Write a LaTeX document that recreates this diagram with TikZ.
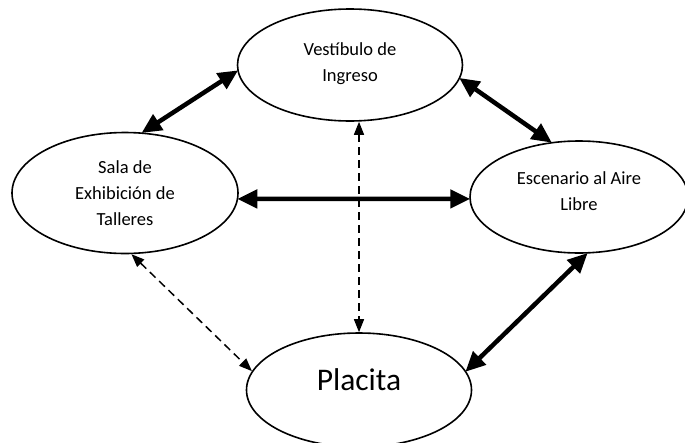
\documentclass[tikz,border=0pt]{standalone}
\usepackage{fontspec}
\setmainfont{Carlito}
\usetikzlibrary{shapes.geometric,arrows.meta}

\tikzset{
  zona/.style={draw, ellipse, line width=1.6pt, align=center,
    font=\fontsize{18.5}{26}\selectfont, inner sep=0pt},
  flecha/.style={line width=4.5pt, {Triangle[length=20pt,width=18pt]}-{Triangle[length=20pt,width=18pt]}, shorten <=-1pt, shorten >=-1pt},
  enlace/.style={line width=1.5pt, dash pattern=on 8pt off 5pt, {Triangle[length=13pt,width=10pt]}-{Triangle[length=13pt,width=10pt]}}
}

\begin{document}
\begin{tikzpicture}[x=1pt, y=-1pt]
    \useasboundingbox (0, 0) rectangle (685, 442);

    % zonas
    \node[zona, minimum width=225pt, minimum height=112pt, text depth=6pt] (vest) at (350, 65) {Vestíbulo de\\Ingreso};
    \node[zona, minimum width=226pt, minimum height=121pt] (sala) at (125, 193) {Sala de\\Exhibición de\\Talleres};
    \node[zona, minimum width=218pt, minimum height=112pt, text depth=12pt] (esc) at (579, 197) {Escenario al Aire\\Libre};
    \node[zona, minimum width=225pt, minimum height=114pt, text depth=20pt, font=\fontsize{31.5}{36}\selectfont] (plac) at (359, 390) {Placita};

    % flechas gruesas
    \draw[flecha] (sala.74) -- (vest.183);
    \draw[flecha] (vest.353) -- (esc.117);
    \draw[flecha] (sala.357) -- (esc.181);
    \draw[flecha] (esc.278) -- (plac.10);

    % flechas discontinuas
    \draw[enlace] (vest.south -| plac.north) -- (plac.north);
    \draw[enlace] (sala.276) -- (plac.170);
\end{tikzpicture}
\end{document}
